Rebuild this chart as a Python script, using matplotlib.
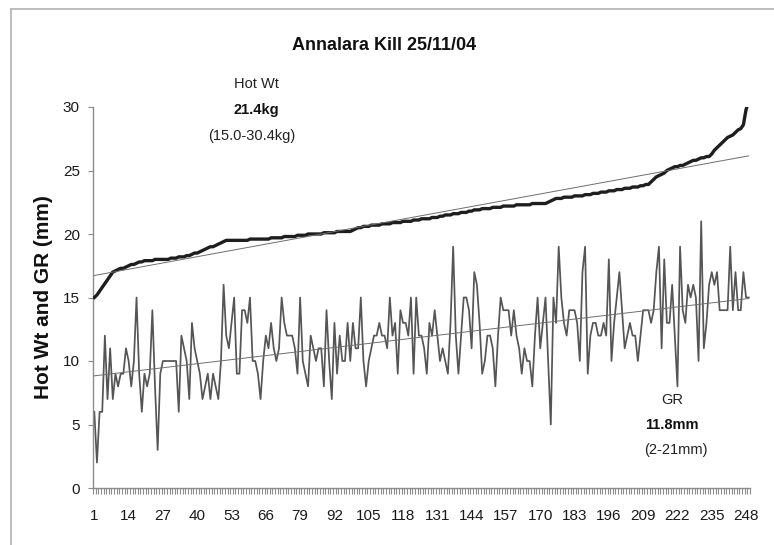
import numpy as np
import matplotlib
matplotlib.use("Agg")
import matplotlib.pyplot as plt
from matplotlib.ticker import FixedLocator, NullFormatter

plt.rcParams['font.family'] = ['Liberation Sans', 'DejaVu Sans']

title = "Annalara Kill 25/11/04"
y_label = "Hot Wt and GR (mm)"

hot_wt = [
    15.0, 15.2, 15.5, 15.8, 16.1, 16.4, 16.7, 17.0, 17.1, 17.2,
    17.3, 17.3, 17.4, 17.5, 17.6, 17.6, 17.7, 17.8, 17.8, 17.9,
    17.9, 17.9, 17.9, 18.0, 18.0, 18.0, 18.0, 18.0, 18.0, 18.1,
    18.1, 18.1, 18.2, 18.2, 18.2, 18.3, 18.3, 18.4, 18.5, 18.5,
    18.6, 18.7, 18.8, 18.9, 19.0, 19.0, 19.1, 19.2, 19.3, 19.4,
    19.5, 19.5, 19.5, 19.5, 19.5, 19.5, 19.5, 19.5, 19.5, 19.6,
    19.6, 19.6, 19.6, 19.6, 19.6, 19.6, 19.6, 19.7, 19.7, 19.7,
    19.7, 19.7, 19.8, 19.8, 19.8, 19.8, 19.8, 19.9, 19.9, 19.9,
    19.9, 20.0, 20.0, 20.0, 20.0, 20.0, 20.0, 20.1, 20.1, 20.1,
    20.1, 20.1, 20.2, 20.2, 20.2, 20.2, 20.2, 20.2, 20.3, 20.4,
    20.5, 20.5, 20.6, 20.6, 20.6, 20.7, 20.7, 20.7, 20.7, 20.8,
    20.8, 20.8, 20.8, 20.9, 20.9, 20.9, 20.9, 21.0, 21.0, 21.0,
    21.0, 21.1, 21.1, 21.1, 21.2, 21.2, 21.2, 21.2, 21.3, 21.3,
    21.3, 21.4, 21.4, 21.5, 21.5, 21.5, 21.6, 21.6, 21.6, 21.7,
    21.7, 21.7, 21.8, 21.8, 21.9, 21.9, 21.9, 22.0, 22.0, 22.0,
    22.0, 22.1, 22.1, 22.1, 22.1, 22.2, 22.2, 22.2, 22.2, 22.2,
    22.3, 22.3, 22.3, 22.3, 22.3, 22.3, 22.4, 22.4, 22.4, 22.4,
    22.4, 22.4, 22.5, 22.6, 22.7, 22.8, 22.8, 22.8, 22.9, 22.9,
    22.9, 22.9, 23.0, 23.0, 23.0, 23.0, 23.1, 23.1, 23.1, 23.2,
    23.2, 23.2, 23.3, 23.3, 23.3, 23.4, 23.4, 23.4, 23.5, 23.5,
    23.5, 23.6, 23.6, 23.6, 23.7, 23.7, 23.7, 23.8, 23.8, 23.9,
    23.9, 24.1, 24.3, 24.5, 24.6, 24.7, 24.8, 25.0, 25.1, 25.2,
    25.3, 25.3, 25.4, 25.4, 25.5, 25.6, 25.7, 25.8, 25.8, 25.9,
    26.0, 26.0, 26.1, 26.1, 26.3, 26.6, 26.8, 27.0, 27.2, 27.4,
    27.6, 27.7, 27.8, 28.0, 28.2, 28.3, 28.6, 29.8, 30.4,
]

gr = [
    6, 2, 6, 6, 12, 7, 11, 7, 9, 8,
    9, 9, 11, 10, 8, 10, 15, 9, 6, 9,
    8, 9, 14, 8, 3, 9, 10, 10, 10, 10,
    10, 10, 6, 12, 11, 10, 7, 13, 11, 10,
    9, 7, 8, 9, 7, 9, 8, 7, 10, 16,
    12, 11, 13, 15, 9, 9, 14, 14, 13, 15,
    10, 10, 9, 7, 10, 12, 11, 13, 11, 10,
    11, 15, 13, 12, 12, 12, 11, 9, 15, 10,
    9, 8, 12, 11, 10, 11, 11, 8, 14, 10,
    7, 13, 9, 12, 10, 10, 13, 10, 13, 11,
    11, 15, 10, 8, 10, 11, 12, 12, 13, 12,
    12, 11, 15, 12, 13, 9, 14, 13, 13, 12,
    15, 9, 15, 12, 12, 11, 9, 13, 12, 14,
    12, 10, 11, 10, 9, 13, 19, 12, 9, 12,
    15, 15, 14, 11, 17, 16, 13, 9, 10, 12,
    12, 11, 8, 12, 15, 14, 14, 14, 12, 14,
    12, 11, 9, 11, 10, 10, 8, 12, 15, 11,
    13, 15, 10, 5, 15, 13, 19, 15, 13, 12,
    14, 14, 14, 13, 10, 17, 19, 9, 12, 13,
    13, 12, 12, 13, 12, 18, 10, 13, 15, 17,
    14, 11, 12, 13, 12, 12, 10, 12, 14, 14,
    14, 13, 14, 17, 19, 11, 18, 13, 13, 16,
    12, 8, 19, 14, 13, 16, 15, 16, 15, 10,
    21, 11, 13, 16, 17, 16, 17, 14, 14, 14,
    14, 19, 14, 17, 14, 14, 17, 15, 15,
]

y_ticks = [0, 5, 10, 15, 20, 25, 30]
x_label_step = 13

W, H = 774, 545
fig = plt.figure(figsize=(W / 100, H / 100), dpi=100)

def fx(px):
    return px / W

def fy(py):
    return 1 - py / H

# outer chart border (top and left visible)
fig.add_artist(plt.Line2D([fx(11), fx(774)], [fy(9), fy(9)], color='#b8b8b8', lw=1.3))
fig.add_artist(plt.Line2D([fx(11), fx(11)], [fy(9), fy(545)], color='#b8b8b8', lw=1.3))

ax = fig.add_axes([fx(93), fy(488), fx(750) - fx(93), fy(107) - fy(488)])

n = len(hot_wt)
x = np.arange(1, n + 1)

ax.plot(x, gr, color='#555555', lw=1.25, zorder=2)
ax.plot(x, hot_wt, color='#1e1e1e', lw=2.4, zorder=3, solid_joinstyle='round')

# linear trend lines
for series in (hot_wt, gr):
    k, b = np.polyfit(x, series, 1)
    ax.plot([x[0], x[-1]], [k * x[0] + b, k * x[-1] + b], color='#6e6e6e', lw=0.7, zorder=4)

ax.set_xlim(0.5, n + 0.5)
ax.set_ylim(0, 30)

for s in ('top', 'right'):
    ax.spines[s].set_visible(False)
for s in ('left', 'bottom'):
    ax.spines[s].set_color('#8c8c8c')
    ax.spines[s].set_linewidth(1.0)

ax.set_yticks(y_ticks)
ax.set_yticklabels([str(v) for v in y_ticks])
ax.tick_params(axis='y', direction='out', length=3.5, width=0.8, color='#8c8c8c',
               labelsize=11, pad=6, labelcolor='#1a1a1a')

xt = list(range(1, n + 1, x_label_step))
ax.set_xticks(xt)
ax.set_xticklabels([str(v) for v in xt])
ax.tick_params(axis='x', which='major', length=0, labelsize=11, pad=15, labelcolor='#1a1a1a')
ax.xaxis.set_minor_locator(FixedLocator(np.arange(0.5, n + 1, 1.0)))
ax.xaxis.set_minor_formatter(NullFormatter())
ax.tick_params(axis='x', which='minor', direction='out', length=4, width=0.8, color='#8c8c8c')

fig.text(fx(384), fy(45), title, ha='center', va='center', fontsize=13, fontweight='bold', color='#111111')
fig.text(fx(44), fy(297), y_label, ha='center', va='center', rotation=90, fontsize=15,
         fontweight='bold', color='#111111')

fig.text(fx(256), fy(84), "Hot Wt", ha='center', va='center', fontsize=10.5, color='#222222')
fig.text(fx(256), fy(110), "21.4kg", ha='center', va='center', fontsize=10.5, fontweight='bold', color='#111111')
fig.text(fx(252), fy(136), "(15.0-30.4kg)", ha='center', va='center', fontsize=10.5, color='#222222')

fig.text(fx(672), fy(400), "GR", ha='center', va='center', fontsize=10.5, color='#222222')
fig.text(fx(672), fy(425), "11.8mm", ha='center', va='center', fontsize=10.5, fontweight='bold', color='#111111')
fig.text(fx(676), fy(450), "(2-21mm)", ha='center', va='center', fontsize=10.5, color='#222222')

fig.savefig("out.png", dpi=100)
